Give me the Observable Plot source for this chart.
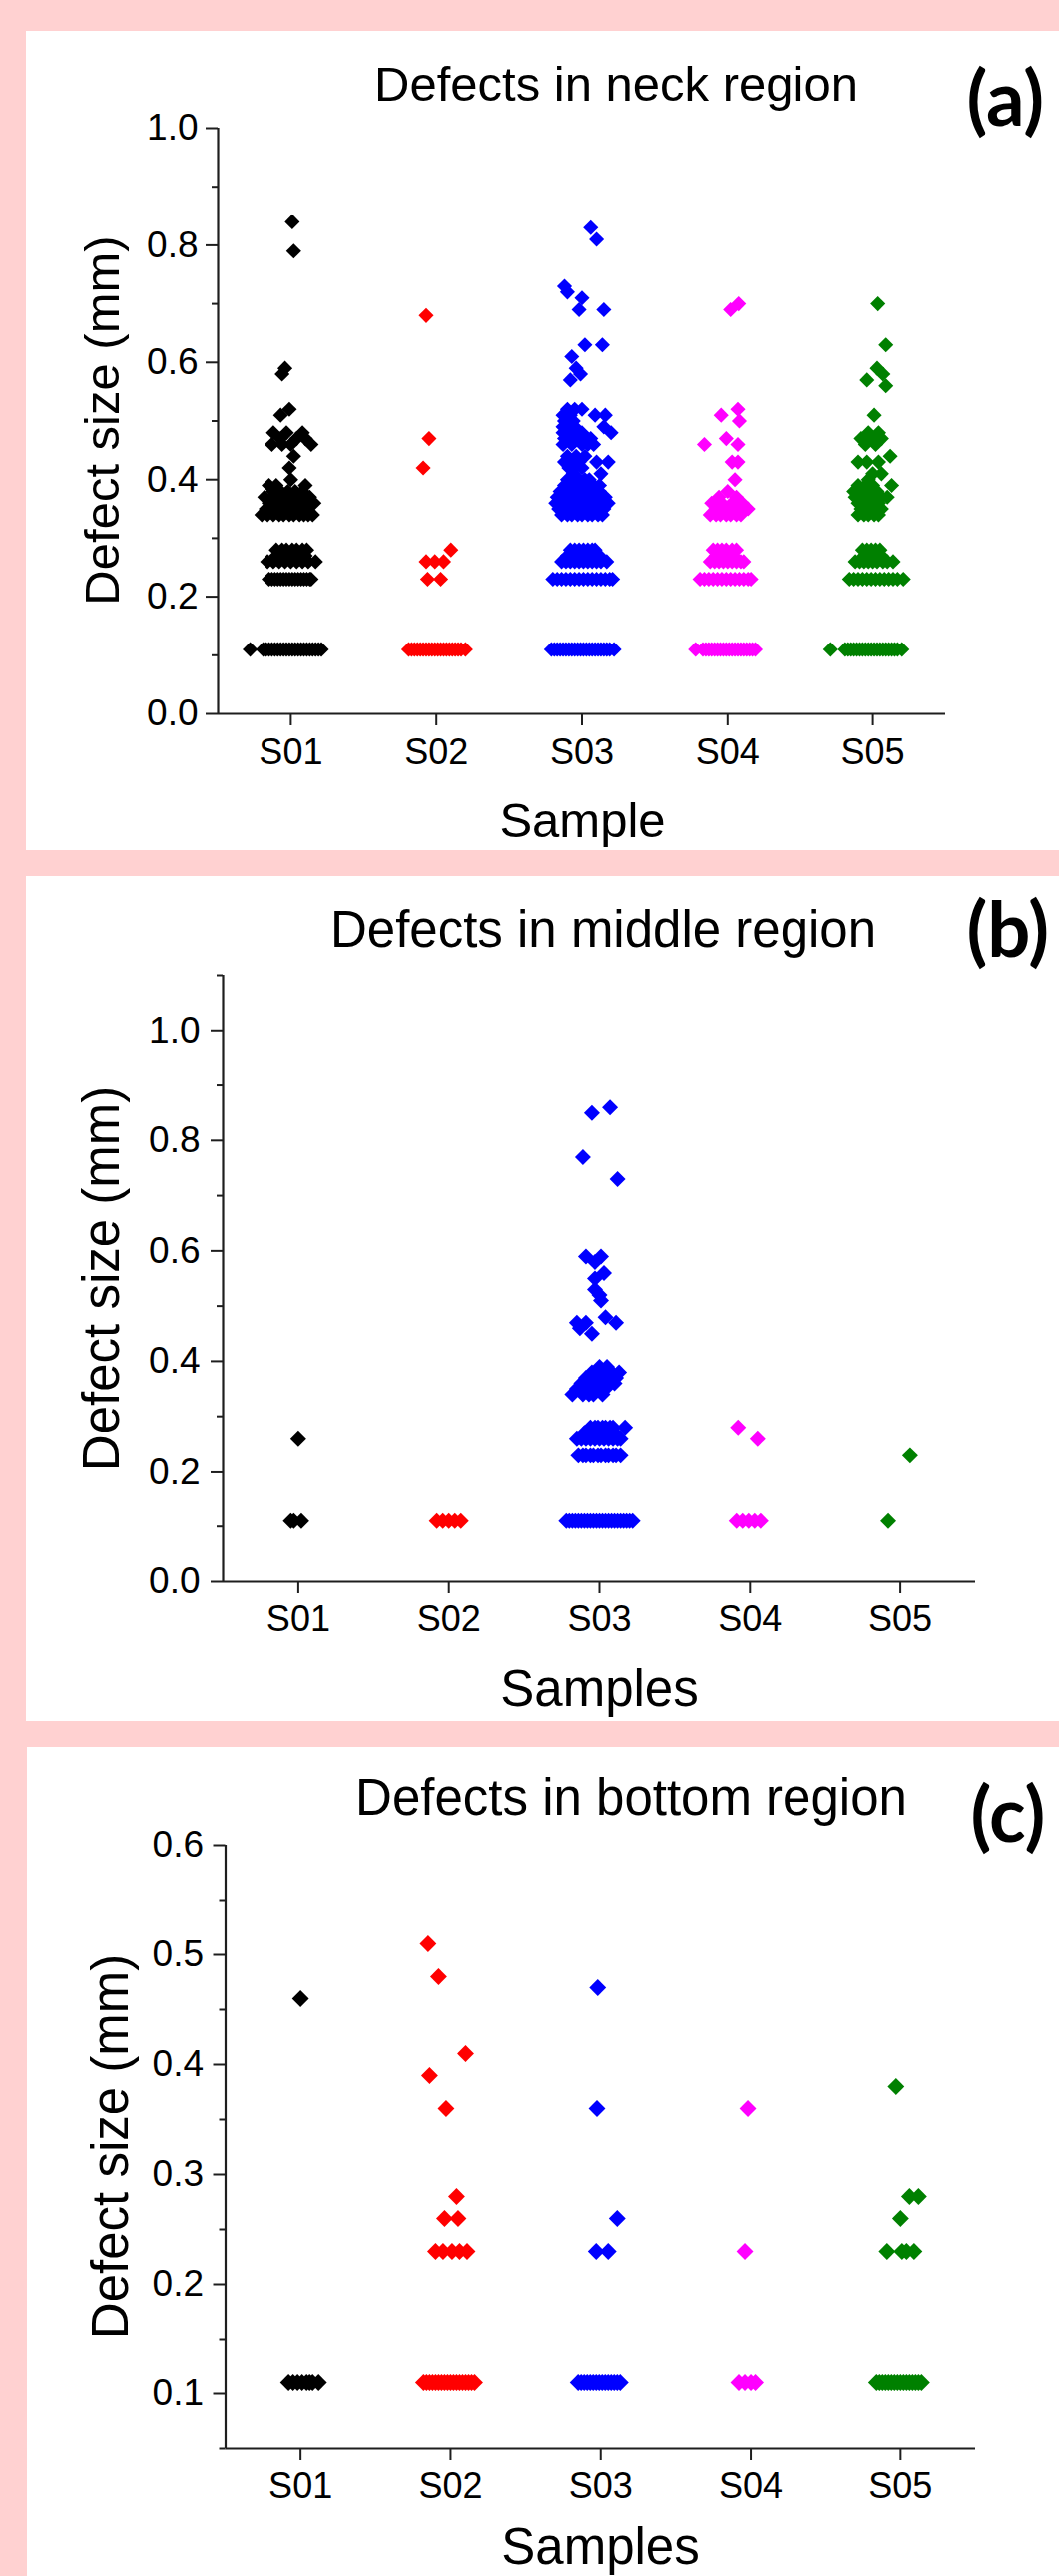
<!DOCTYPE html>
<html><head><meta charset="utf-8">
<script src="https://cdn.jsdelivr.net/npm/d3@7"></script>
<script src="https://cdn.jsdelivr.net/npm/@observablehq/plot@0.6"></script>
<style>
html,body{margin:0;padding:0;background:#ffd1d1;}
body{width:1061px;height:2582px;position:relative;overflow:hidden;}
.panel{position:absolute;background:#fff;overflow:hidden;}
.panel svg{display:block;max-width:none;}
</style></head><body>
<div id="pa" class="panel"></div>
<div id="pb" class="panel"></div>
<div id="pc" class="panel"></div>
<script>
// ---------- data ----------
const samples = ["S01","S02","S03","S04","S05"];
const colors = ["#000000","#ff0000","#0000ff","#ff00ff","#008000"];
const titles = ["Defects in neck region","Defects in middle region","Defects in bottom region"];
const tags = ["(a)","(b)","(c)"];
const xLabels = ["Sample","Samples","Samples"];
const yLabel = "Defect size (mm)";
const neckMajor = [0,0.2,0.4,0.6,0.8,1.0];
const neckMinor = [0.1,0.3,0.5,0.7,0.9];
const midMajor = [0,0.2,0.4,0.6,0.8,1.0];
const midMinor = [0.1,0.3,0.5,0.7,0.9,1.1];
const botMajor = [0.1,0.2,0.3,0.4,0.5,0.6];
const botMinor = [0.05,0.15,0.25,0.35,0.45,0.55];

// each row: [defect size (mm), [horizontal jitter of each point, in category units]]
const neckS01 = [[0.84,[0.01]],[0.79,[0.02]],[0.59,[-0.04]],[0.58,[-0.06]],[0.52,[-0.01]],[0.51,[-0.07]],
 [0.48,[-0.12,-0.03,0.08]],[0.47,[-0.07,0.04,0.1]],[0.46,[-0.13,-0.06,0.0,0.14]],[0.44,[0.02]],[0.42,[-0.01]],[0.40,[0.0]],
 [0.39,[-0.15,-0.1,0.1]],[0.38,[-0.12,-0.07,-0.02,0.03,0.08]],[0.37,[-0.18,-0.12,-0.06,0.0,0.04,0.09,0.13]],
 [0.36,[-0.15,-0.11,-0.08,-0.04,0.0,0.05,0.1,0.16]],[0.35,[-0.17,-0.1,-0.03,0.04,0.11]],
 [0.34,[-0.2,-0.16,-0.12,-0.08,-0.05,-0.01,0.02,0.06,0.09,0.12,0.15]],
 [0.28,[-0.1,-0.06,-0.03,0.01,0.04,0.08,0.11]],[0.27,[-0.1,-0.05,0.0,0.05,0.1]],
 [0.26,[-0.16,-0.12,-0.08,-0.04,0.0,0.04,0.08,0.12,0.17]],
 [0.23,[-0.15,-0.13,-0.11,-0.09,-0.07,-0.05,-0.03,-0.01,0.01,0.03,0.05,0.07,0.09,0.11,0.13,0.14]],
 [0.11,[-0.28,-0.19,-0.17,-0.15,-0.13,-0.11,-0.09,-0.07,-0.05,-0.03,-0.01,0.01,0.03,0.05,0.07,0.09,0.11,0.13,0.15,0.17,0.19,0.21]]];
const neckS02 = [[0.68,[-0.07]],[0.47,[-0.05]],[0.42,[-0.09]],[0.28,[0.1]],[0.26,[-0.07,-0.01,0.05]],[0.23,[-0.06,0.03]],
 [0.11,[-0.19,-0.17,-0.15,-0.13,-0.11,-0.09,-0.07,-0.05,-0.03,-0.01,0.01,0.03,0.05,0.07,0.09,0.11,0.13,0.15,0.17,0.2]]];
const neckS03 = [[0.83,[0.06]],[0.81,[0.1]],[0.73,[-0.12]],[0.72,[-0.1]],[0.71,[0.0]],[0.69,[-0.02,0.15]],
 [0.63,[0.02,0.14]],[0.61,[-0.07]],[0.59,[-0.04]],[0.58,[-0.01]],[0.57,[-0.08]],
 [0.52,[-0.1,-0.05,0.0]],[0.51,[-0.13,-0.08,0.09,0.16]],[0.50,[-0.12,-0.06]],[0.49,[-0.13,-0.1,-0.05,0.15]],
 [0.48,[-0.13,-0.06,0.0,0.2]],[0.47,[-0.12,-0.1,-0.03,0.03,0.06]],[0.46,[-0.13,-0.07,0.0,0.04,0.08]],
 [0.44,[-0.1,-0.04,0.02]],[0.43,[-0.12,-0.07,-0.02,0.1,0.18]],[0.42,[-0.09,-0.05,0.0]],[0.41,[-0.06,0.13]],
 [0.40,[-0.1,-0.05,-0.02,0.02,0.05]],[0.39,[-0.12,-0.08,-0.05,0.02,0.08,0.12]],
 [0.38,[-0.15,-0.11,-0.08,-0.04,-0.01,0.03,0.06,0.09,0.12]],[0.37,[-0.17,-0.13,-0.1,-0.06,-0.03,0.0,0.04,0.07,0.1,0.13,0.16]],
 [0.36,[-0.18,-0.14,-0.11,-0.07,-0.04,0.0,0.03,0.06,0.09,0.12,0.15,0.18]],
 [0.35,[-0.16,-0.12,-0.09,-0.05,-0.02,0.02,0.05,0.08,0.12,0.15]],[0.34,[-0.14,-0.1,-0.07,-0.03,0.0,0.04,0.07,0.11,0.14]],
 [0.28,[-0.08,-0.05,-0.02,0.01,0.04,0.07,0.09]],[0.27,[-0.1,-0.06,-0.02,0.02,0.06,0.1,0.12]],
 [0.26,[-0.14,-0.11,-0.08,-0.05,-0.02,0.01,0.04,0.07,0.1,0.13,0.17]],
 [0.23,[-0.2,-0.17,-0.14,-0.11,-0.08,-0.05,-0.02,0.01,0.04,0.07,0.1,0.13,0.16,0.19,0.21]],
 [0.11,[-0.21,-0.19,-0.17,-0.15,-0.13,-0.11,-0.09,-0.07,-0.05,-0.03,-0.01,0.01,0.03,0.05,0.07,0.09,0.11,0.13,0.15,0.17,0.19,0.22]]];
const neckS04 = [[0.70,[0.075]],[0.69,[0.02]],[0.52,[0.07]],[0.51,[-0.045]],[0.50,[0.08]],[0.47,[-0.01]],[0.46,[-0.16,0.07]],
 [0.43,[0.03,0.07]],[0.40,[0.05]],[0.38,[0.0]],[0.37,[-0.06,0.06]],[0.36,[-0.11,-0.07,-0.04,0.03,0.07,0.1]],
 [0.35,[-0.08,-0.04,0.0,0.07,0.14]],[0.34,[-0.12,-0.08,-0.05,-0.01,0.02,0.06,0.09]],
 [0.28,[-0.1,-0.07,-0.04,-0.01,0.03,0.06]],[0.27,[-0.08,-0.02,0.04]],[0.26,[-0.12,-0.09,-0.06,-0.03,0.0,0.03,0.06,0.09,0.11]],
 [0.23,[-0.19,-0.16,-0.13,-0.1,-0.07,-0.04,-0.01,0.02,0.05,0.08,0.11,0.14,0.16]],
 [0.11,[-0.22,-0.17,-0.15,-0.13,-0.11,-0.09,-0.07,-0.05,-0.03,-0.01,0.01,0.03,0.05,0.07,0.09,0.11,0.13,0.15,0.17,0.19]]];
const neckS05 = [[0.70,[0.035]],[0.63,[0.09]],[0.59,[0.03]],[0.58,[0.07]],[0.57,[-0.04]],[0.56,[0.09]],[0.51,[0.01]],
 [0.48,[-0.03,0.04]],[0.47,[-0.08,0.0,0.06]],[0.46,[-0.05,0.02]],[0.44,[0.12]],[0.43,[-0.1,-0.04,0.04]],[0.41,[0.0,0.06]],
 [0.40,[-0.03]],[0.39,[-0.1,-0.05,0.0,0.13]],[0.38,[-0.13,-0.09,-0.05,0.03]],[0.37,[-0.12,-0.06,-0.02,0.02,0.06,0.1]],
 [0.36,[-0.1,-0.06,-0.03,0.01,0.04]],[0.35,[-0.08,-0.04,0.0,0.03,0.06]],[0.34,[-0.1,-0.06,-0.03,0.01,0.04]],
 [0.28,[-0.07,-0.04,-0.01,0.02,0.05]],[0.27,[-0.06,0.0,0.06]],[0.26,[-0.12,-0.09,-0.06,-0.03,0.0,0.03,0.07,0.1,0.14]],
 [0.23,[-0.16,-0.13,-0.1,-0.07,-0.04,-0.01,0.02,0.05,0.08,0.11,0.14,0.17,0.21]],
 [0.11,[-0.29,-0.19,-0.17,-0.15,-0.13,-0.11,-0.09,-0.07,-0.05,-0.03,-0.01,0.01,0.03,0.05,0.07,0.09,0.11,0.13,0.15,0.17,0.2]]];

const midS01 = [[0.26,[0.0]],[0.11,[-0.05,-0.03,0.02]]];
const midS02 = [[0.11,[-0.08,-0.04,0.0,0.04,0.08]]];
const midS03 = [[0.86,[0.07]],[0.85,[-0.05]],[0.77,[-0.11]],[0.73,[0.12]],[0.59,[-0.09,0.01]],[0.58,[-0.03]],
 [0.56,[0.03]],[0.55,[-0.03]],[0.53,[-0.03]],[0.52,[0.0]],[0.51,[0.01]],[0.48,[0.04]],[0.47,[-0.15,-0.09,0.11]],
 [0.46,[-0.13]],[0.45,[-0.05]],[0.39,[0.0,0.05]],[0.38,[-0.05,-0.01,0.02,0.05,0.08,0.13]],
 [0.37,[-0.09,-0.05,-0.02,0.01,0.05,0.08,0.11]],[0.36,[-0.12,-0.09,-0.06,-0.03,0.0,0.03,0.06,0.1]],
 [0.35,[-0.15,-0.11,-0.08,-0.05,-0.02,0.01,0.04]],[0.34,[-0.18,-0.11,-0.07,-0.04,0.02]],
 [0.28,[-0.06,-0.03,-0.01,0.02,0.04,0.07,0.09,0.17]],[0.27,[-0.1,-0.05,0.0,0.05,0.1]],
 [0.26,[-0.15,-0.12,-0.09,-0.06,-0.03,0.0,0.03,0.06,0.09,0.12,0.14]],
 [0.23,[-0.14,-0.11,-0.09,-0.06,-0.04,-0.01,0.01,0.04,0.06,0.09,0.11,0.14]],
 [0.11,[-0.22,-0.2,-0.18,-0.16,-0.14,-0.12,-0.1,-0.08,-0.06,-0.04,-0.02,0.0,0.02,0.04,0.06,0.08,0.1,0.12,0.14,0.16,0.18,0.2,0.22]]];
const midS04 = [[0.28,[-0.08]],[0.26,[0.05]],[0.11,[-0.09,-0.05,-0.01,0.03,0.07]]];
const midS05 = [[0.23,[0.065]],[0.11,[-0.08]]];

const botS01 = [[0.46,[0.0]],[0.11,[-0.08,-0.05,-0.02,0.01,0.04,0.06,0.08,0.12]]];
const botS02 = [[0.51,[-0.15]],[0.48,[-0.08]],[0.41,[0.1]],[0.39,[-0.14]],[0.36,[-0.03]],[0.28,[0.04]],
 [0.26,[-0.04,0.05]],[0.23,[-0.1,-0.05,0.01,0.06,0.11]],
 [0.11,[-0.18,-0.16,-0.14,-0.12,-0.1,-0.08,-0.06,-0.04,-0.02,0.0,0.02,0.04,0.06,0.08,0.1,0.12,0.14,0.16]]];
const botS03 = [[0.47,[-0.02]],[0.36,[-0.025]],[0.26,[0.11]],[0.23,[-0.03,0.05]],
 [0.11,[-0.15,-0.13,-0.11,-0.09,-0.07,-0.05,-0.03,-0.01,0.01,0.03,0.05,0.07,0.09,0.11,0.13]]];
const botS04 = [[0.36,[-0.02]],[0.23,[-0.04]],[0.11,[-0.08,-0.04,0.0,0.03]]];
const botS05 = [[0.38,[-0.03]],[0.28,[0.06,0.12]],[0.26,[0.0]],[0.23,[-0.09,0.01,0.04,0.09]],
 [0.11,[-0.16,-0.14,-0.12,-0.1,-0.08,-0.06,-0.04,-0.02,0.0,0.02,0.04,0.06,0.08,0.1,0.12,0.14]]];

// ---------- layout ----------
const FONT = "'Liberation Sans', Arial, Helvetica, sans-serif";
const TAGFONT = "Lato, 'Open Sans', sans-serif";
const AX = "#1e1e1e";

const panels = [
 {id:"pa", left:26, top:31, height:821, axL:218, axR:947, axT:128, axB:715,
  yDomain:[0,1], major:neckMajor, minor:neckMinor, fmt:".1f",
  series:[neckS01,neckS02,neckS03,neckS04,neckS05], r:6.8, yPad:8, xPad:13, fs:49,
  titleX:617, titleY:100, tagX:968, tagY:125, xlX:583, xlY:838, ylX:118, ylY:421},
 {id:"pb", left:26, top:878, height:847, axL:223, axR:977, axT:977, axB:1585,
  yDomain:[0,1.1], major:midMajor, minor:midMinor, fmt:".1f",
  series:[midS01,midS02,midS03,midS04,midS05], r:7.2, yPad:11, xPad:12, fs:51,
  titleX:604, titleY:948, tagX:968, tagY:958, xlX:600, xlY:1709, ylX:118, ylY:1281},
 {id:"pc", left:27, top:1751, height:831, axL:225.5, axR:977, axT:1849, axB:2454,
  yDomain:[0.05,0.6], major:botMajor, minor:botMinor, fmt:".1f",
  series:[botS01,botS02,botS03,botS04,botS05], r:7.6, yPad:10, xPad:12, fs:51,
  titleX:632, titleY:1818, tagX:972, tagY:1845, xlX:601, xlY:2569, ylX:127, ylY:2151}
];

panels.forEach((p, k) => {
  const W = 1061 - p.left;
  const div = document.getElementById(p.id);
  div.style.left = p.left + "px"; div.style.top = p.top + "px";
  div.style.width = W + "px"; div.style.height = p.height + "px";
  const fmt = d3.format(p.fmt);
  const txt = (s, x, y, o) => Plot.text([s], Object.assign({
    text: d => d, frameAnchor: "top-left", dx: x - p.axL, dy: y - p.axT,
    lineAnchor: "bottom", textAnchor: "middle", fontFamily: FONT, fontSize: p.fs, fill: "#000"}, o || {}));
  const dots = p.series.map((rows, i) => Plot.dot(
    rows.flatMap(([v, offs]) => offs.map(o => ({x: i + 1 + o, y: v}))),
    {x: "x", y: "y", symbol: "diamond2", r: p.r, fill: colors[i], stroke: "none"}));
  const chart = Plot.plot({
    width: W, height: p.height,
    marginLeft: p.axL - p.left, marginRight: 1061 - p.axR,
    marginTop: p.axT - p.top, marginBottom: p.top + p.height - p.axB,
    style: {background: "white", fontFamily: FONT, fontSize: "36px", overflow: "hidden"},
    x: {domain: [0.5, 5.5], label: null},
    y: {domain: p.yDomain, label: null},
    marks: [
      ...dots,
      Plot.axisY(p.major, {tickSize: 12, fill: "none", stroke: AX, strokeWidth: 2, label: null}),
      Plot.axisY(p.minor, {tickSize: 6, fill: "none", stroke: AX, strokeWidth: 2, label: null}),
      Plot.axisX([1,2,3,4,5], {tickSize: 12, fill: "none", stroke: AX, strokeWidth: 2, label: null}),
      Plot.text(p.major, {y: d => d, text: d => fmt(d), frameAnchor: "left", dx: -(12 + p.yPad),
        textAnchor: "end", lineAnchor: "middle", fontSize: 37, fontFamily: FONT, fill: "#000"}),
      Plot.text([1,2,3,4,5], {x: d => d, text: d => samples[d - 1], frameAnchor: "bottom", dy: 12 + p.xPad,
        textAnchor: "middle", lineAnchor: "top", fontSize: 36, fontFamily: FONT, fill: "#000"}),
      Plot.ruleX([0.5], {stroke: AX, strokeWidth: 2.2}),
      Plot.ruleY([p.yDomain[0]], {stroke: AX, strokeWidth: 2.2}),
      txt(titles[k], p.titleX, p.titleY),
      txt(tags[k], p.tagX, p.tagY, {textAnchor: "start", fontFamily: TAGFONT, fontWeight: "bold", fontSize: 76}),
      txt(xLabels[k], p.xlX, p.xlY),
      txt(yLabel, p.ylX, p.ylY, {rotate: -90})
    ]
  });
  div.appendChild(chart);
});
</script>
</body></html>
